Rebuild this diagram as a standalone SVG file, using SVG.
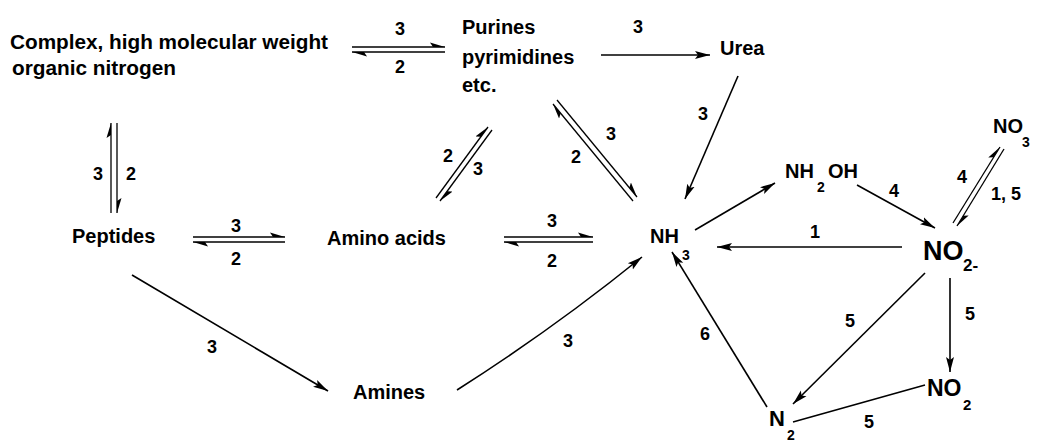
<svg xmlns="http://www.w3.org/2000/svg" width="1038" height="442" viewBox="0 0 1038 442">
<defs>
<marker id="arr" markerUnits="userSpaceOnUse" markerWidth="16" markerHeight="10" refX="15" refY="5" orient="auto"><path d="M0,1 L15,5 L0,9 L3,5 z" fill="#000"/></marker>
<marker id="half" markerUnits="userSpaceOnUse" markerWidth="16" markerHeight="10" refX="15" refY="5" orient="auto"><path d="M15,5 L0,0.5 L3,5 z" fill="#000"/></marker>
</defs>
<style>
text{font-family:"Liberation Sans",Arial,sans-serif;font-weight:bold;fill:#000}
.lbl{font-size:20px}
.num{font-size:18px;text-anchor:middle}
.chem{font-size:20px}
.sub{font-size:14px}
.c{fill:none;stroke:#000;stroke-width:1.6}
.d{fill:none;stroke:#000;stroke-width:1.3}
.a{marker-end:url(#arr)}
.h{marker-end:url(#half)}
</style>
<rect width="1038" height="442" fill="#fff"/>
<g id="n-complex"><text class="lbl" x="10" y="49" textLength="318" lengthAdjust="spacingAndGlyphs">Complex, high molecular weight</text><text class="lbl" x="12" y="75" textLength="164" lengthAdjust="spacingAndGlyphs">organic nitrogen</text></g>
<g id="n-purines"><text class="lbl" x="462" y="34">Purines</text><text class="lbl" x="462" y="64">pyrimidines</text><text class="lbl" x="462" y="92">etc.</text></g>
<g id="n-urea"><text class="lbl" x="720" y="55">Urea</text></g>
<g id="n-peptides"><text class="lbl" x="72" y="243">Peptides</text></g>
<g id="n-amino"><text class="lbl" x="327" y="245">Amino acids</text></g>
<g id="n-amines"><text class="lbl" x="353" y="399">Amines</text></g>
<g id="n-nh3"><text class="chem" x="650" y="243">NH</text><text class="sub" x="682" y="260">3</text></g>
<g id="n-nh2oh"><text class="chem" x="785" y="178" font-size="21">NH</text><text class="sub" x="817" y="192">2</text><text class="chem" x="828" y="178" font-size="21">OH</text></g>
<g id="n-no2m"><text x="923" y="260" font-size="27">NO</text><text x="963" y="271" font-size="17">2-</text></g>
<g id="n-no3"><text class="chem" x="993" y="133">NO</text><text class="sub" x="1022" y="147">3</text></g>
<g id="n-no2"><text x="927" y="396" font-size="23">NO</text><text x="963" y="410" font-size="15">2</text></g>
<g id="n-n2"><text x="769" y="426" font-size="22">N</text><text class="sub" x="787" y="440">2</text></g>
<g id="connectors">
<path class="d h" d="M352,47 H445"/>
<path class="d h" d="M445,52 H352"/>
<path class="c a" d="M601,55 H710"/>
<path class="c a" d="M738,76 L685,199"/>
<path class="d h" d="M633,201 L553,104"/>
<path class="d h" d="M557,100 L637,197"/>
<path class="d h" d="M436,198 L488,127"/>
<path class="d h" d="M492,130 L440,201"/>
<path class="d h" d="M111,213 V123"/>
<path class="d h" d="M117,123 V213"/>
<path class="d h" d="M193,237 H285"/>
<path class="d h" d="M285,242 H193"/>
<path class="d h" d="M504,237 H593"/>
<path class="d h" d="M593,242 H504"/>
<path class="c a" d="M695,230 L775,183"/>
<path class="c a" d="M857,185 L935,228"/>
<path class="c a" d="M902,247 L717,247"/>
<path class="d h" d="M953,223 L1000,147"/>
<path class="d h" d="M1004,149 L957,226"/>
<path class="c a" d="M925,273 L793,404"/>
<path class="c a" d="M950,278 V372"/>
<path class="c" d="M925,385 L793,422"/>
<path class="c a" d="M767,407 L672,252"/>
<path class="c a" d="M132,275 L328,391"/>
<path class="c a" d="M457,390 Q553,329 642,257"/>
<g id="labels">
<text class="num" x="400" y="35">3</text>
<text class="num" x="400" y="73">2</text>
<text class="num" x="638" y="33">3</text>
<text class="num" x="703" y="120">3</text>
<text class="num" x="611" y="140">3</text>
<text class="num" x="576" y="163">2</text>
<text class="num" x="448" y="162">2</text>
<text class="num" x="478" y="175">3</text>
<text class="num" x="98" y="180">3</text>
<text class="num" x="131" y="180">2</text>
<text class="num" x="236" y="232">3</text>
<text class="num" x="236" y="265">2</text>
<text class="num" x="552" y="227">3</text>
<text class="num" x="552" y="267">2</text>
<text class="num" x="815" y="238">1</text>
<text class="num" x="894" y="197">4</text>
<text class="num" x="962" y="183">4</text>
<text class="num" x="1006" y="200">1, 5</text>
<text class="num" x="850" y="327">5</text>
<text class="num" x="970" y="320">5</text>
<text class="num" x="869" y="428">5</text>
<text class="num" x="705" y="340">6</text>
<text class="num" x="212" y="353">3</text>
<text class="num" x="568" y="347">3</text>
</g>
</g>
</svg>
